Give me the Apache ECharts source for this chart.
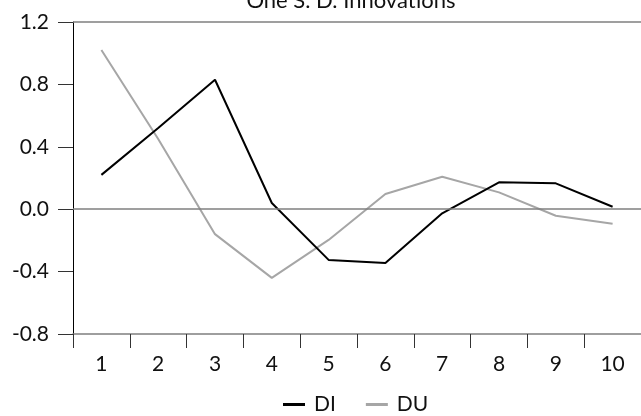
<!DOCTYPE html>
<html>
<head>
<meta charset="utf-8">
<script src="https://cdn.jsdelivr.net/npm/echarts@6/dist/echarts.min.js"></script>
<style>html,body{margin:0;padding:0;background:#fff}#c{width:641px;height:416px}</style>
</head>
<body>
<div id="c"></div>
<script>
const categories = ['1','2','3','4','5','6','7','8','9','10'];
const DI = [0.22, 0.52, 0.83, 0.04, -0.325, -0.345, -0.026, 0.172, 0.166, 0.016];
const DU = [1.02, 0.45, -0.16, -0.44, -0.197, 0.097, 0.208, 0.108, -0.042, -0.093];
const yTicks = { min: -0.8, max: 1.2, interval: 0.4 };
const refLines = [1.2, 0];

const FONT = 'Lato, "Open Sans", sans-serif';
const chart = echarts.init(document.getElementById('c'), null, { renderer: 'canvas' });
chart.setOption({
  animation: false,
  backgroundColor: '#ffffff',
  title: {
    text: 'One S. D. Innovations',
    left: 346,
    textAlign: 'center',
    top: -15,
    textStyle: { fontFamily: FONT, fontSize: 22, fontWeight: 'normal', color: '#111' }
  },
  legend: {
    top: 389,
    left: 278,
    itemWidth: 22,
    itemHeight: 3,
    itemGap: 30,
    icon: 'rect',
    textStyle: { fontFamily: FONT, fontSize: 21, color: '#111', padding: [0, 0, 0, 4] },
    data: ['DI', 'DU']
  },
  grid: { left: 73, top: 22, width: 572, height: 312, containLabel: false },
  xAxis: {
    type: 'category',
    data: categories,
    boundaryGap: true,
    axisLine: { onZero: false, lineStyle: { color: '#7f7f7f', width: 1.5 } },
    axisTick: { show: true, length: 14, lineStyle: { color: '#333', width: 1 } },
    axisLabel: { margin: 20, fontFamily: FONT, fontSize: 21, color: '#111' },
    splitLine: { show: false }
  },
  yAxis: {
    type: 'value',
    min: yTicks.min,
    max: yTicks.max,
    interval: yTicks.interval,
    axisLine: { show: true, lineStyle: { color: '#000', width: 1 } },
    axisTick: { show: true, length: 15, lineStyle: { color: '#333', width: 1 } },
    axisLabel: {
      margin: 24, fontFamily: FONT, fontSize: 21, color: '#111',
      formatter: v => v.toFixed(1)
    },
    splitLine: { show: false }
  },
  series: [
    {
      name: 'DI', type: 'line', data: DI, symbol: 'none',
      lineStyle: { color: '#000', width: 2 }, itemStyle: { color: '#000' },
      z: 3,
      markLine: {
        silent: true, symbol: 'none', label: { show: false },
        lineStyle: { color: '#7f7f7f', width: 1.5, type: 'solid' },
        data: refLines.map(v => ({ yAxis: v }))
      }
    },
    {
      name: 'DU', type: 'line', data: DU, symbol: 'none',
      lineStyle: { color: '#a6a6a6', width: 2 }, itemStyle: { color: '#a6a6a6' },
      z: 2
    }
  ]
});
</script>
</body>
</html>
